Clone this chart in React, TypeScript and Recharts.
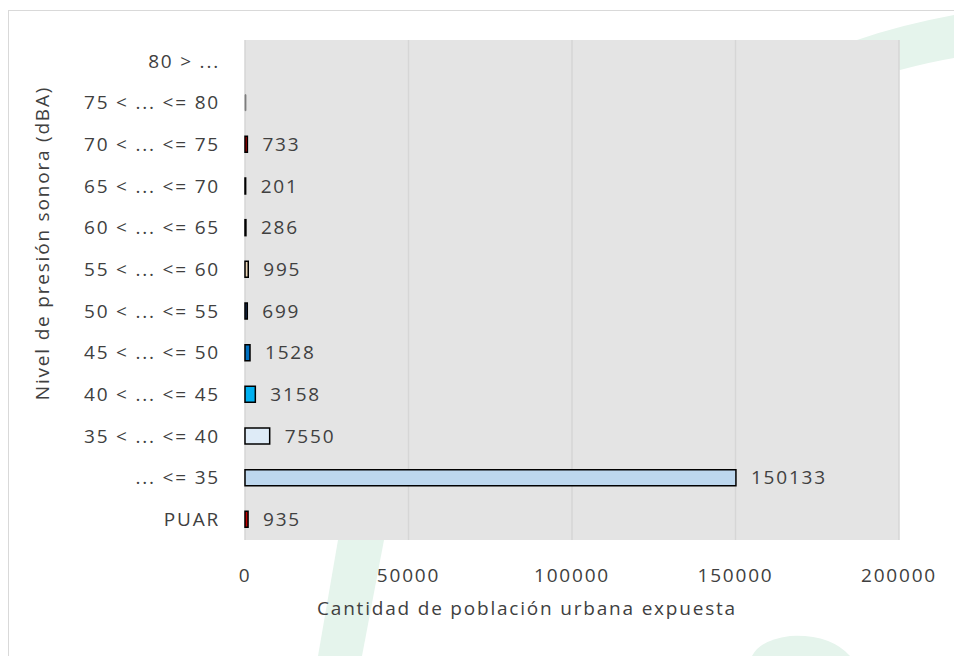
import { BarChart, Bar, XAxis, YAxis, CartesianGrid, Cell, LabelList } from 'recharts';

const categories = [
  '80 > ...',
  '75 < ... <= 80',
  '70 < ... <= 75',
  '65 < ... <= 70',
  '60 < ... <= 65',
  '55 < ... <= 60',
  '50 < ... <= 55',
  '45 < ... <= 50',
  '40 < ... <= 45',
  '35 < ... <= 40',
  '... <= 35',
  'PUAR',
];
const population: (number | null)[] = [null, 0, 733, 201, 286, 995, 699, 1528, 3158, 7550, 150133, 935];
const barColors = [
  '#ffffff', '#7f7f7f', '#c00000', '#f2f2f2', '#f2f2f2', '#e8d3b4',
  '#1f3864', '#0070c0', '#00b0f0', '#deebf7', '#bdd7ee', '#c00000',
];
const xTicks = [0, 50000, 100000, 150000, 200000];

const data = categories.map((name, i) => ({ name, value: population[i] }));

const FONT = '"Open Sans", sans-serif';
const TEXT = '#404040';
const SPACING = '1.8px';

export default function App() {
  return (
    <div style={{ position: 'fixed', left: 0, top: 0, width: 954, height: 656, background: '#fff', overflow: 'hidden' }}>
      {/* watermark swooshes + frame behind the chart */}
      <svg width={954} height={656} style={{ position: 'absolute', left: 0, top: 0 }}>
        <path d="M857 40 Q 900 25 954 15 L 954 58 Q 930 62 900 70 Z" fill="#e5f4ec" />
        <path d="M338 540 L 384 540 L 362 656 L 318 656 Z" fill="#e5f4ec" />
        <path d="M752 656 Q 760 640 790 636 Q 830 634 850 656 Z" fill="#e5f4ec" />
        <line x1={8} y1={10.5} x2={954} y2={10.5} stroke="#d9d9d9" />
        <line x1={8.5} y1={10} x2={8.5} y2={656} stroke="#d9d9d9" />
      </svg>
      <div style={{ position: 'absolute', left: 0, top: 0 }}>
        <BarChart
          width={954}
          height={656}
          data={data}
          layout="vertical"
          barSize={16}
          margin={{ top: 40, right: 55, left: 10, bottom: 56 }}
        >
          <CartesianGrid horizontal={false} fill="#e4e4e4" stroke="#d6d6d6" strokeWidth={1.5} />
          <XAxis
            type="number"
            domain={[0, 200000]}
            ticks={xTicks}
            axisLine={false}
            tickLine={false}
            tickMargin={23}
            height={60}
            tick={{ fill: TEXT, fontSize: 19, fontFamily: FONT, letterSpacing: SPACING }}
          />
          <YAxis
            type="category"
            dataKey="name"
            width={235}
            axisLine={false}
            tickLine={false}
            tickMargin={19}
            interval={0}
            tick={{ fill: TEXT, fontSize: 19, fontFamily: FONT, letterSpacing: SPACING }}
          />
          <Bar
            dataKey="value"
            stroke="#000"
            strokeWidth={1.5}
            isAnimationActive={false}
            minPointSize={(v: number) => (v === 0 ? 1 : 0)}
          >
            {data.map((d, i) => (
              <Cell
                key={d.name}
                fill={barColors[i]}
                stroke={d.value === 0 ? '#7f7f7f' : '#000'}
                strokeWidth={d.value === 0 ? 0.8 : 1.5}
              />
            ))}
            <LabelList
              dataKey="value"
              position="right"
              offset={15}
              formatter={(v: any) => (v ? String(v) : '')}
              style={{ fill: TEXT, fontSize: 19, fontFamily: FONT, letterSpacing: SPACING }}
            />
          </Bar>
          <text
            x={527}
            y={610}
            textAnchor="middle"
            dominantBaseline="middle"
            fill={TEXT}
            fontSize={19}
            fontFamily={FONT}
            letterSpacing={SPACING}
          >
            Cantidad de población urbana expuesta
          </text>
          <text
            x={44}
            y={243}
            textAnchor="middle"
            dominantBaseline="middle"
            transform="rotate(-90 44 243)"
            fill={TEXT}
            fontSize={19}
            fontFamily={FONT}
            letterSpacing={SPACING}
          >
            Nivel de presión sonora (dBA)
          </text>
        </BarChart>
      </div>
    </div>
  );
}
